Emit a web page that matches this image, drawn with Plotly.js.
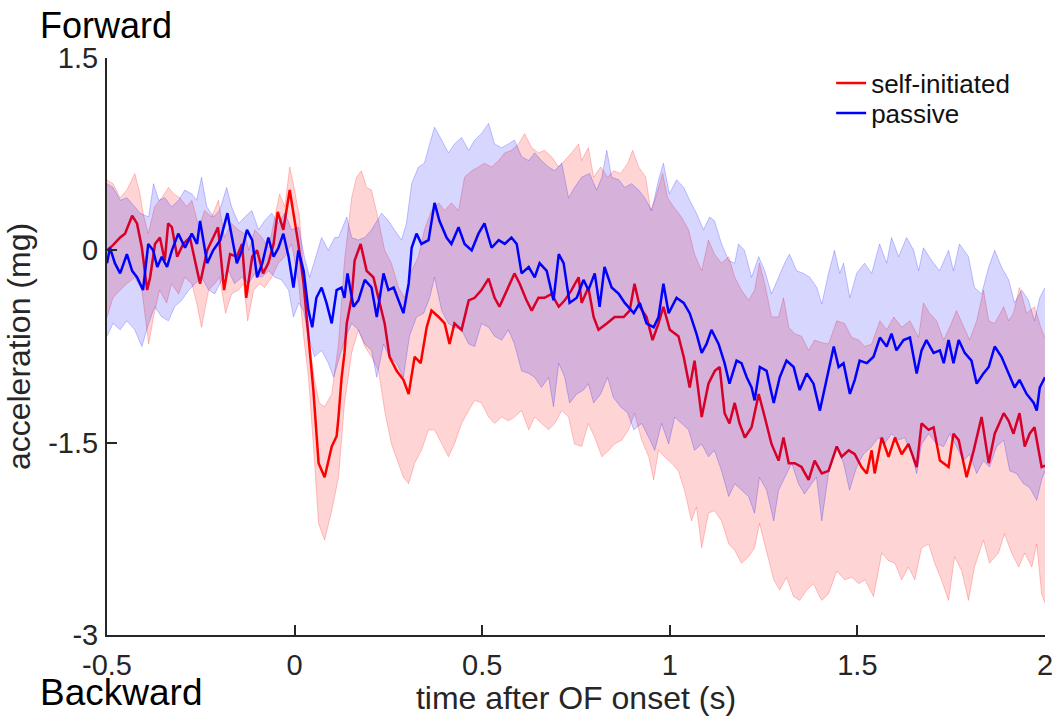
<!DOCTYPE html>
<html>
<head>
<meta charset="utf-8">
<script src="https://cdn.plot.ly/plotly-3.0.1.min.js"></script>
<style>html,body{margin:0;padding:0;background:#fff;}#chart{width:1053px;height:716px;}</style>
</head>
<body>
<div id="chart"></div>
<script>
// ---- data ----
const seriesNames = ["self-initiated", "passive"];
const xTickVals = [-0.5, 0, 0.5, 1, 1.5, 2];
const xTickText = ["-0.5", "0", "0.5", "1", "1.5", "2"];
const yTickVals = [-3, -1.5, 0, 1.5];
const yTickText = ["-3", "-1.5", "0", "1.5"];

// self-initiated mean
const redT = [-0.500,-0.484,-0.465,-0.452,-0.433,-0.420,-0.407,-0.393,-0.385,-0.372,-0.359,-0.346,-0.337,-0.327,-0.313,-0.297,-0.279,-0.265,-0.252,-0.233,-0.217,-0.204,-0.188,-0.172,-0.154,-0.140,-0.129,-0.113,-0.100,-0.084,-0.070,-0.056,-0.045,-0.030,-0.013,-0.003,0.010,0.024,0.037,0.050,0.064,0.080,0.099,0.112,0.117,0.125,0.133,0.139,0.152,0.160,0.176,0.192,0.210,0.224,0.240,0.253,0.272,0.290,0.304,0.320,0.336,0.352,0.365,0.384,0.400,0.413,0.426,0.445,0.464,0.480,0.498,0.517,0.533,0.546,0.565,0.586,0.600,0.618,0.632,0.650,0.666,0.685,0.704,0.720,0.738,0.757,0.765,0.783,0.797,0.810,0.832,0.853,0.877,0.893,0.906,0.920,0.938,0.954,0.970,0.983,1.000,1.023,1.037,1.053,1.066,1.085,1.103,1.120,1.133,1.146,1.159,1.173,1.186,1.200,1.218,1.237,1.253,1.271,1.290,1.303,1.317,1.333,1.351,1.370,1.386,1.405,1.423,1.445,1.458,1.477,1.493,1.511,1.525,1.538,1.546,1.565,1.583,1.600,1.618,1.636,1.658,1.671,1.690,1.703,1.720,1.743,1.756,1.770,1.791,1.810,1.831,1.850,1.866,1.890,1.903,1.916,1.932,1.946,1.959,1.972,1.991,2.000];
const redMean = [0.00,0.04,0.10,0.13,0.27,0.21,0.02,-0.31,-0.21,0.05,0.10,-0.08,0.21,0.18,-0.05,0.05,0.10,-0.08,-0.26,0.00,0.10,0.18,-0.31,-0.03,-0.05,0.05,-0.37,-0.05,0.00,-0.18,-0.10,0.05,0.30,0.16,0.47,0.29,0.05,-0.26,-0.67,-1.09,-1.66,-1.77,-1.53,-1.45,-1.30,-1.00,-0.80,-0.57,-0.37,-0.08,0.05,-0.16,-0.21,-0.37,-0.57,-0.83,-0.94,-1.01,-1.12,-0.83,-0.88,-0.60,-0.47,-0.52,-0.57,-0.73,-0.57,-0.62,-0.39,-0.37,-0.31,-0.22,-0.37,-0.44,-0.31,-0.18,-0.26,-0.39,-0.47,-0.37,-0.37,-0.34,-0.44,-0.39,-0.31,-0.21,-0.41,-0.29,-0.52,-0.62,-0.57,-0.52,-0.52,-0.47,-0.26,-0.44,-0.52,-0.70,-0.57,-0.44,-0.62,-0.67,-0.83,-1.07,-0.86,-1.30,-1.04,-0.94,-0.91,-1.27,-1.35,-1.19,-1.35,-1.46,-1.38,-1.12,-1.30,-1.51,-1.64,-1.46,-1.66,-1.66,-1.69,-1.79,-1.64,-1.74,-1.72,-1.53,-1.61,-1.56,-1.59,-1.69,-1.74,-1.56,-1.74,-1.46,-1.61,-1.46,-1.59,-1.51,-1.69,-1.35,-1.40,-1.38,-1.64,-1.69,-1.43,-1.48,-1.77,-1.56,-1.30,-1.66,-1.43,-1.27,-1.33,-1.43,-1.27,-1.53,-1.43,-1.38,-1.69,-1.68];

// passive mean
const blueT = [-0.500,-0.492,-0.479,-0.465,-0.447,-0.433,-0.420,-0.404,-0.390,-0.377,-0.366,-0.354,-0.340,-0.327,-0.310,-0.292,-0.274,-0.260,-0.252,-0.233,-0.217,-0.198,-0.179,-0.166,-0.154,-0.140,-0.127,-0.113,-0.100,-0.086,-0.070,-0.056,-0.043,-0.030,-0.016,-0.003,0.010,0.024,0.037,0.047,0.058,0.072,0.085,0.099,0.112,0.125,0.133,0.141,0.157,0.170,0.187,0.205,0.219,0.237,0.250,0.264,0.277,0.290,0.304,0.312,0.325,0.338,0.357,0.365,0.373,0.386,0.405,0.418,0.437,0.453,0.472,0.490,0.506,0.525,0.544,0.560,0.578,0.592,0.605,0.624,0.640,0.653,0.672,0.690,0.704,0.717,0.733,0.752,0.770,0.783,0.800,0.813,0.826,0.845,0.864,0.880,0.904,0.920,0.938,0.957,0.970,0.983,0.997,1.018,1.037,1.053,1.071,1.085,1.098,1.111,1.130,1.146,1.159,1.178,1.191,1.205,1.218,1.226,1.240,1.258,1.277,1.293,1.311,1.330,1.346,1.365,1.383,1.400,1.418,1.437,1.450,1.463,1.480,1.493,1.506,1.525,1.543,1.560,1.578,1.591,1.604,1.623,1.640,1.658,1.671,1.684,1.703,1.720,1.730,1.743,1.756,1.770,1.786,1.804,1.818,1.836,1.850,1.866,1.884,1.903,1.919,1.932,1.951,1.970,1.978,1.986,2.000];
const blueMean = [-0.10,0.02,-0.10,-0.18,-0.03,-0.16,-0.21,-0.31,0.05,0.00,-0.13,-0.05,-0.13,0.00,0.13,0.02,0.13,0.05,0.23,-0.10,0.00,0.08,0.29,0.10,-0.10,0.00,0.16,0.08,-0.21,-0.10,0.10,-0.05,0.02,0.13,-0.05,-0.29,0.00,-0.16,-0.47,-0.60,-0.37,-0.29,-0.41,-0.57,-0.31,-0.29,-0.37,-0.18,-0.44,-0.39,-0.23,-0.29,-0.52,-0.18,-0.31,-0.29,-0.39,-0.49,-0.26,0.02,0.13,0.05,0.08,0.23,0.37,0.23,0.10,0.05,0.18,0.05,0.00,0.13,0.21,0.02,0.08,0.05,0.10,0.05,-0.18,-0.13,-0.21,-0.10,-0.16,-0.39,-0.03,-0.10,-0.41,-0.37,-0.23,-0.31,-0.18,-0.44,-0.13,-0.29,-0.34,-0.41,-0.49,-0.41,-0.57,-0.60,-0.52,-0.26,-0.49,-0.37,-0.41,-0.49,-0.65,-0.80,-0.73,-0.62,-0.73,-0.88,-1.04,-0.86,-0.88,-0.99,-1.07,-1.17,-0.91,-0.94,-1.19,-0.99,-0.86,-0.91,-1.09,-0.96,-1.04,-1.25,-1.01,-0.75,-0.91,-0.88,-1.12,-1.01,-0.86,-0.88,-0.83,-0.68,-0.75,-0.65,-0.78,-0.70,-0.68,-0.96,-0.78,-0.70,-0.80,-0.78,-0.88,-0.70,-0.88,-0.70,-0.80,-0.86,-1.04,-0.96,-0.91,-0.75,-0.83,-0.96,-1.07,-1.01,-1.12,-1.19,-1.25,-1.07,-0.99];

// self-initiated band
const redUpT = [-0.500,-0.484,-0.465,-0.447,-0.426,-0.412,-0.404,-0.390,-0.373,-0.354,-0.336,-0.322,-0.306,-0.287,-0.274,-0.255,-0.240,-0.221,-0.203,-0.187,-0.168,-0.150,-0.133,-0.122,-0.106,-0.087,-0.069,-0.053,-0.040,-0.026,-0.013,0.000,0.013,0.026,0.040,0.053,0.066,0.080,0.099,0.117,0.133,0.152,0.165,0.178,0.192,0.205,0.224,0.240,0.258,0.277,0.293,0.312,0.330,0.346,0.365,0.384,0.400,0.418,0.437,0.453,0.472,0.490,0.506,0.525,0.544,0.560,0.578,0.597,0.613,0.632,0.650,0.666,0.685,0.704,0.720,0.738,0.757,0.765,0.783,0.797,0.816,0.834,0.850,0.869,0.888,0.901,0.917,0.936,0.949,0.962,0.981,0.994,1.010,1.031,1.050,1.066,1.085,1.103,1.119,1.138,1.157,1.173,1.191,1.210,1.226,1.239,1.253,1.271,1.290,1.303,1.317,1.333,1.351,1.370,1.386,1.405,1.423,1.445,1.466,1.485,1.504,1.520,1.538,1.560,1.578,1.597,1.618,1.640,1.663,1.676,1.692,1.711,1.730,1.746,1.764,1.783,1.799,1.818,1.836,1.850,1.866,1.890,1.903,1.916,1.932,1.951,1.972,1.991,2.000];
const redUpper = [0.55,0.52,0.41,0.47,0.60,0.44,0.29,0.13,0.34,0.41,0.49,0.44,0.41,0.34,0.39,0.18,0.31,0.26,0.39,0.10,0.21,0.16,0.13,0.00,0.16,0.10,0.02,0.26,0.44,0.34,0.65,0.47,0.26,-0.26,-0.73,-1.01,-1.19,-1.22,-1.12,-0.73,-0.08,0.41,0.57,0.62,0.49,0.47,0.23,0.00,-0.10,-0.29,-0.37,-0.16,-0.05,0.16,0.31,0.37,0.31,0.37,0.31,0.57,0.62,0.65,0.68,0.65,0.70,0.76,0.78,0.83,0.91,0.80,0.76,0.78,0.73,0.65,0.70,0.76,0.83,0.70,0.80,0.57,0.65,0.57,0.62,0.60,0.68,0.78,0.65,0.57,0.31,0.41,0.60,0.41,0.34,0.26,0.16,-0.03,-0.16,0.08,-0.03,-0.10,-0.05,-0.21,-0.31,-0.39,-0.31,-0.10,-0.26,-0.52,-0.52,-0.37,-0.60,-0.65,-0.67,-0.78,-0.70,-0.72,-0.73,-0.55,-0.57,-0.68,-0.70,-0.75,-0.73,-0.55,-0.62,-0.52,-0.60,-0.55,-0.68,-0.41,-0.49,-0.55,-0.70,-0.60,-0.47,-0.60,-0.70,-0.55,-0.31,-0.55,-0.57,-0.44,-0.55,-0.49,-0.29,-0.49,-0.44,-0.62,-0.68];
const redLoT = [-0.500,-0.484,-0.465,-0.447,-0.426,-0.407,-0.389,-0.376,-0.360,-0.341,-0.328,-0.309,-0.293,-0.274,-0.261,-0.248,-0.229,-0.213,-0.200,-0.184,-0.168,-0.149,-0.136,-0.125,-0.109,-0.093,-0.080,-0.061,-0.043,-0.026,-0.008,0.011,0.024,0.037,0.051,0.064,0.080,0.099,0.117,0.133,0.152,0.170,0.187,0.205,0.224,0.240,0.258,0.277,0.290,0.304,0.320,0.338,0.357,0.373,0.392,0.410,0.426,0.445,0.464,0.480,0.498,0.517,0.533,0.552,0.570,0.586,0.605,0.624,0.640,0.658,0.677,0.693,0.712,0.730,0.746,0.765,0.783,0.800,0.819,0.837,0.853,0.872,0.890,0.906,0.925,0.944,0.957,0.970,0.986,1.005,1.023,1.039,1.058,1.071,1.085,1.103,1.119,1.138,1.157,1.173,1.191,1.210,1.226,1.239,1.258,1.277,1.293,1.311,1.330,1.346,1.365,1.383,1.399,1.405,1.423,1.445,1.466,1.485,1.504,1.520,1.543,1.565,1.583,1.600,1.618,1.636,1.653,1.671,1.690,1.706,1.724,1.743,1.759,1.778,1.796,1.812,1.836,1.852,1.876,1.892,1.911,1.930,1.946,1.965,1.978,1.991,2.000];
const redLower = [-0.52,-0.37,-0.31,-0.26,-0.21,-0.31,-0.73,-0.52,-0.31,-0.41,-0.26,-0.34,-0.21,-0.26,-0.41,-0.60,-0.31,-0.26,-0.21,-0.49,-0.34,-0.31,-0.26,-0.55,-0.31,-0.26,-0.29,-0.21,-0.10,-0.05,0.05,-0.26,-0.67,-0.99,-1.56,-2.13,-2.26,-2.03,-1.77,-1.19,-0.80,-0.62,-0.75,-0.83,-0.94,-1.25,-1.51,-1.66,-1.77,-1.82,-1.66,-1.56,-1.40,-1.40,-1.51,-1.61,-1.51,-1.35,-1.25,-1.17,-1.19,-1.30,-1.35,-1.30,-1.33,-1.30,-1.25,-1.40,-1.30,-1.35,-1.40,-1.35,-1.25,-1.30,-1.51,-1.53,-1.35,-1.46,-1.61,-1.56,-1.51,-1.48,-1.40,-1.27,-1.48,-1.61,-1.79,-1.56,-1.61,-1.66,-1.72,-1.87,-2.11,-2.00,-2.32,-2.05,-2.03,-2.11,-2.29,-2.34,-2.44,-2.39,-2.32,-2.13,-2.34,-2.57,-2.65,-2.55,-2.70,-2.73,-2.65,-2.60,-2.70,-2.73,-2.68,-2.50,-2.57,-2.55,-2.60,-2.57,-2.70,-2.36,-2.42,-2.44,-2.57,-2.47,-2.57,-2.32,-2.29,-2.44,-2.57,-2.73,-2.39,-2.50,-2.73,-2.47,-2.26,-2.44,-2.36,-2.21,-2.36,-2.47,-2.36,-2.47,-2.29,-2.68,-2.75];

// passive band
const blueUpT = [-0.500,-0.484,-0.465,-0.447,-0.426,-0.412,-0.389,-0.376,-0.362,-0.346,-0.328,-0.309,-0.293,-0.274,-0.261,-0.248,-0.234,-0.216,-0.200,-0.181,-0.168,-0.149,-0.133,-0.114,-0.096,-0.080,-0.061,-0.043,-0.026,-0.008,0.011,0.026,0.040,0.053,0.072,0.090,0.107,0.117,0.139,0.152,0.170,0.187,0.205,0.232,0.250,0.266,0.285,0.298,0.312,0.330,0.346,0.360,0.373,0.392,0.410,0.426,0.445,0.464,0.480,0.498,0.517,0.533,0.552,0.570,0.586,0.605,0.624,0.640,0.658,0.677,0.693,0.712,0.730,0.746,0.765,0.786,0.805,0.819,0.832,0.845,0.864,0.880,0.898,0.917,0.933,0.952,0.970,0.983,0.999,1.018,1.037,1.053,1.071,1.090,1.106,1.119,1.138,1.157,1.173,1.183,1.199,1.218,1.237,1.253,1.271,1.290,1.306,1.319,1.338,1.357,1.373,1.392,1.405,1.423,1.439,1.453,1.463,1.480,1.498,1.519,1.538,1.559,1.578,1.591,1.610,1.631,1.650,1.663,1.676,1.698,1.719,1.743,1.756,1.772,1.796,1.812,1.831,1.850,1.866,1.884,1.903,1.919,1.938,1.956,1.972,1.986,2.000];
const blueUpper = [0.52,0.49,0.39,0.41,0.34,0.29,0.26,0.52,0.39,0.41,0.34,0.39,0.47,0.44,0.39,0.57,0.34,0.26,0.31,0.49,0.34,0.21,0.26,0.31,0.16,0.23,0.29,0.21,0.29,0.16,0.18,-0.05,-0.21,-0.08,0.10,0.00,0.10,0.10,0.26,0.10,0.08,0.10,0.16,0.29,0.23,0.16,0.08,0.21,0.52,0.65,0.68,0.83,0.96,0.86,0.76,0.83,0.88,0.78,0.86,0.91,0.99,0.83,0.80,0.83,0.86,0.73,0.70,0.76,0.70,0.65,0.62,0.68,0.41,0.49,0.57,0.60,0.47,0.57,0.78,0.57,0.55,0.49,0.52,0.47,0.41,0.31,0.55,0.68,0.44,0.55,0.49,0.39,0.29,0.16,0.26,0.23,0.05,-0.08,-0.10,0.05,0.00,-0.21,-0.05,-0.16,-0.34,-0.21,-0.10,-0.03,-0.16,-0.18,-0.21,-0.29,-0.42,-0.18,0.00,-0.18,-0.10,-0.37,-0.18,-0.10,-0.18,0.05,-0.10,0.10,-0.05,0.10,0.00,-0.16,0.02,-0.08,-0.16,0.00,-0.16,0.05,-0.05,-0.29,-0.34,-0.13,0.00,-0.13,-0.23,-0.41,-0.31,-0.39,-0.55,-0.37,-0.29];
const blueLoT = [-0.500,-0.484,-0.465,-0.447,-0.426,-0.407,-0.389,-0.373,-0.354,-0.336,-0.320,-0.301,-0.282,-0.266,-0.248,-0.229,-0.213,-0.194,-0.176,-0.160,-0.141,-0.123,-0.106,-0.088,-0.069,-0.053,-0.035,-0.016,-0.003,0.011,0.024,0.037,0.053,0.072,0.090,0.104,0.120,0.133,0.152,0.170,0.187,0.205,0.219,0.237,0.253,0.272,0.290,0.306,0.325,0.344,0.360,0.373,0.392,0.410,0.426,0.445,0.464,0.480,0.498,0.517,0.533,0.552,0.570,0.586,0.605,0.624,0.640,0.658,0.677,0.690,0.704,0.720,0.733,0.752,0.770,0.783,0.797,0.816,0.834,0.850,0.869,0.888,0.904,0.925,0.944,0.960,0.978,0.997,1.013,1.031,1.050,1.066,1.085,1.103,1.119,1.138,1.157,1.173,1.191,1.210,1.226,1.239,1.258,1.277,1.290,1.306,1.325,1.343,1.359,1.378,1.391,1.405,1.423,1.445,1.463,1.479,1.498,1.516,1.538,1.556,1.572,1.591,1.610,1.626,1.645,1.658,1.671,1.690,1.711,1.730,1.746,1.764,1.783,1.799,1.818,1.836,1.852,1.871,1.890,1.906,1.924,1.943,1.959,1.978,1.991,2.000];
const blueLower = [-0.67,-0.57,-0.62,-0.55,-0.62,-0.75,-0.57,-0.44,-0.52,-0.55,-0.44,-0.39,-0.31,-0.26,-0.21,-0.31,-0.34,-0.23,-0.16,-0.26,-0.21,-0.26,-0.18,-0.21,-0.16,-0.21,-0.23,-0.31,-0.52,-0.41,-0.47,-0.67,-0.83,-0.78,-0.88,-0.99,-0.83,-0.70,-0.57,-0.62,-0.73,-0.78,-0.99,-0.73,-0.83,-0.88,-0.99,-0.67,-0.52,-0.49,-0.37,-0.21,-0.47,-0.57,-0.60,-0.62,-0.73,-0.75,-0.57,-0.60,-0.67,-0.70,-0.62,-0.73,-0.94,-0.96,-0.99,-1.07,-0.99,-1.22,-0.88,-0.99,-1.19,-1.12,-1.09,-1.04,-1.19,-1.12,-0.99,-1.15,-1.22,-1.27,-1.40,-1.35,-1.46,-1.56,-1.35,-1.51,-1.30,-1.35,-1.40,-1.56,-1.51,-1.61,-1.56,-1.72,-1.92,-1.82,-1.87,-1.92,-2.05,-1.77,-1.87,-2.11,-1.87,-1.77,-1.66,-1.82,-1.90,-1.82,-1.77,-2.11,-1.74,-1.53,-1.66,-1.87,-1.69,-1.59,-1.53,-1.46,-1.51,-1.43,-1.48,-1.46,-1.59,-1.74,-1.51,-1.43,-1.51,-1.53,-1.43,-1.53,-1.64,-1.59,-1.74,-1.64,-1.69,-1.53,-1.48,-1.72,-1.74,-1.82,-1.85,-1.95,-1.79,-1.72];

// ---- styles ----
const FONT = "Liberation Sans, Arial, Helvetica, sans-serif";
const AX = "#262626";

function edge(x, y, col) {
  return {x: x, y: y, type: "scatter", mode: "lines", showlegend: false, hoverinfo: "skip",
          line: {color: col, width: 0.8}};
}

const traces = [
  edge(redLoT, redLower, "rgba(255,0,0,0.28)"),
  Object.assign(edge(redUpT, redUpper, "rgba(255,0,0,0.28)"), {fill: "tonexty", fillcolor: "rgba(255,0,0,0.17)"}),
  {x: redT, y: redMean, type: "scatter", mode: "lines", name: seriesNames[0], legend: "legend",
   line: {color: "#ff0000", width: 2.5}},
  edge(blueLoT, blueLower, "rgba(0,0,255,0.28)"),
  Object.assign(edge(blueUpT, blueUpper, "rgba(0,0,255,0.28)"), {fill: "tonexty", fillcolor: "rgba(0,0,255,0.16)"}),
  {x: blueT, y: blueMean, type: "scatter", mode: "lines", name: seriesNames[1], legend: "legend2",
   line: {color: "#0000ff", width: 2.5}}
];

const legFont = {family: FONT, size: 26, color: "#111"};
const layout = {
  width: 1053, height: 716,
  margin: {l: 107, r: 8, t: 58, b: 81, pad: 0},
  paper_bgcolor: "#ffffff", plot_bgcolor: "#ffffff",
  font: {family: FONT, color: AX},
  showlegend: true,
  legend: {x: 0.772, y: 0.9567, xanchor: "left", yanchor: "middle", bgcolor: "rgba(0,0,0,0)",
           font: legFont, borderwidth: 0, traceorder: "normal"},
  legend2: {x: 0.772, y: 0.9047, xanchor: "left", yanchor: "middle", bgcolor: "rgba(0,0,0,0)",
           font: legFont, borderwidth: 0, traceorder: "normal"},
  xaxis: {
    range: [-0.5, 2], tickmode: "array", tickvals: xTickVals, ticktext: xTickText,
    ticks: "inside", ticklen: 10, tickwidth: 2, tickcolor: AX,
    showline: true, linewidth: 2, linecolor: AX, showgrid: false, zeroline: false,
    tickfont: {family: FONT, size: 29, color: AX}, ticklabelstandoff: 3, ticklabeloverflow: "allow",
    title: {text: "time after OF onset (s)", font: {family: FONT, size: 32, color: AX}, standoff: 2}
  },
  yaxis: {
    range: [-3, 1.5], tickmode: "array", tickvals: yTickVals, ticktext: yTickText,
    ticks: "inside", ticklen: 10, tickwidth: 2, tickcolor: AX,
    showline: true, linewidth: 2, linecolor: AX, showgrid: false, zeroline: false,
    tickfont: {family: FONT, size: 29, color: AX}, ticklabelstandoff: 1, ticklabeloverflow: "allow",
    title: {text: "acceleration (mg)", font: {family: FONT, size: 32, color: AX}, standoff: 8}
  },
  annotations: [
    {text: "Forward", xref: "paper", yref: "paper", x: -0.0736, y: 1.057, xanchor: "left", yanchor: "middle",
     showarrow: false, font: {family: FONT, size: 36, color: "#000"}},
    {text: "Backward", xref: "paper", yref: "paper", x: -0.0736, y: -0.1, xanchor: "left", yanchor: "middle",
     showarrow: false, font: {family: FONT, size: 37, color: "#000"}}
  ]
};

Plotly.newPlot("chart", traces, layout, {staticPlot: true, displayModeBar: false});
</script>
</body>
</html>
